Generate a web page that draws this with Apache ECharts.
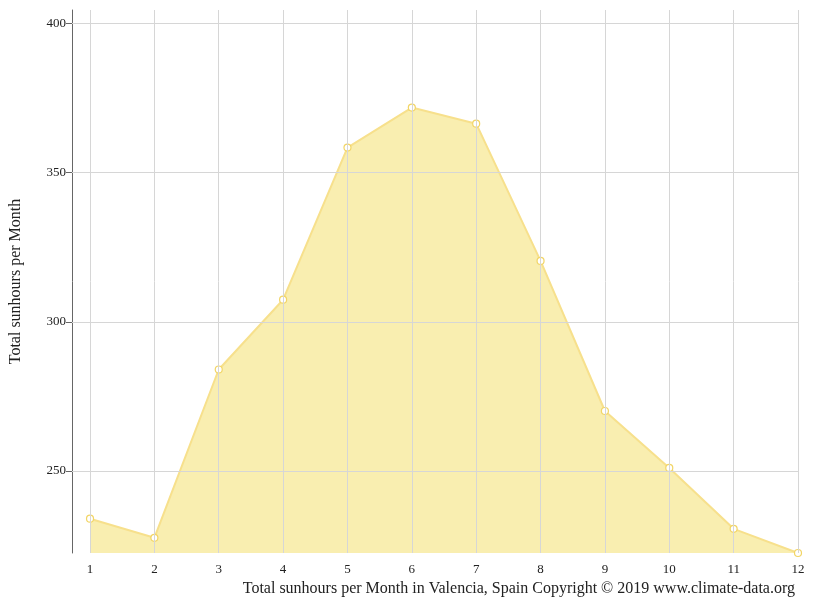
<!DOCTYPE html>
<html><head><meta charset="utf-8">
<script src="https://cdn.jsdelivr.net/npm/echarts@6/dist/echarts.min.js"></script>
<style>html,body{margin:0;padding:0;background:#fff}#c{width:815px;height:611px}</style>
</head><body><div id="c"></div>
<script>
const months = [1,2,3,4,5,6,7,8,9,10,11,12];
const sunhours = [234,227.6,284,307.4,358.4,371.8,366.4,320.4,270.1,251,230.6,222.5];
const yTicks = [250,300,350,400];
const title = 'Total sunhours per Month in Valencia, Spain Copyright © 2019 www.climate-data.org';
const yName = 'Total sunhours per Month';
const font = '"Liberation Serif", "DejaVu Serif", serif';
const grid = '#d6d6d6';
const chart = echarts.init(document.getElementById('c'));
chart.setOption({
  animation:false,
  textStyle:{fontFamily:font},
  grid:{left:71,right:17,top:10,bottom:58},
  title:{text:title,right:15,bottom:9,textStyle:{fontFamily:font,fontWeight:'normal',fontSize:16,color:'#222'}},
  xAxis:{type:'value',min:0.72,max:12,
    axisLine:{show:false},axisTick:{show:false},splitLine:{show:false},
    axisLabel:{customValues:months,color:'#222',fontSize:13,fontFamily:font,margin:10}},
  yAxis:{type:'value',min:222.5,max:404.5,name:yName,nameLocation:'middle',nameGap:48,
    nameTextStyle:{fontFamily:font,fontSize:16,color:'#222'},
    axisLine:{show:true,lineStyle:{color:'#666'}},
    axisTick:{show:true,customValues:yTicks,length:6,lineStyle:{color:'#666'}},
    splitLine:{show:false},
    axisLabel:{customValues:yTicks,color:'#222',fontSize:13,fontFamily:font,margin:6}},
  series:[{type:'line',data:months.map((m,i)=>[m,sunhours[i]]),
    symbol:'circle',symbolSize:7,
    lineStyle:{color:'#f7e08c',width:2},
    itemStyle:{color:'#fff',borderColor:'#f2d566',borderWidth:1.2},
    areaStyle:{color:'#f9eeb0',opacity:1},
    z:3,
    markLine:{silent:true,symbol:'none',label:{show:false},
      lineStyle:{color:grid,type:'solid',width:1},
      data:yTicks.map(v=>({yAxis:v})).concat(months.map(m=>({xAxis:m})))}
  }]
});
</script></body></html>
